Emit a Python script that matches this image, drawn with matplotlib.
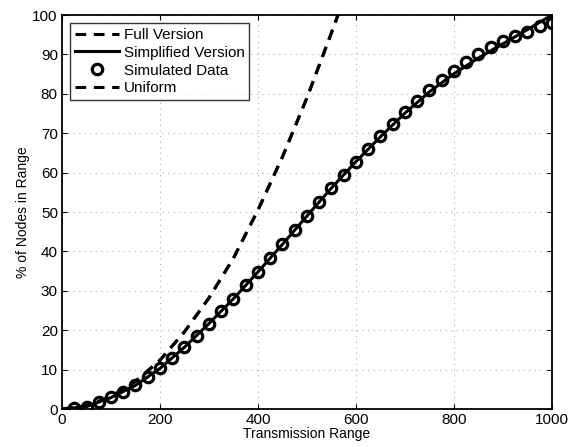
import numpy as np
from matplotlib import pyplot as plt

plt.rcParams['font.family'] = ['Liberation Sans', 'DejaVu Sans']

# simulated data (circles)
sim_x = np.arange(25, 1001, 25)
sim_y = [0.2, 0.6, 1.8, 3.0, 4.3, 6.0, 8.0, 10.3, 12.9, 15.7,
         18.6, 21.7, 24.8, 28.0, 31.4, 34.8, 38.3, 41.8, 45.4, 49.0,
         52.6, 56.1, 59.5, 62.8, 66.1, 69.2, 72.3, 75.4, 78.3, 81.0,
         83.5, 85.8, 88.0, 90.0, 91.8, 93.3, 94.6, 95.8, 97.2, 98.0]

# simplified version (solid)
simp_x = [0, 50, 100, 150, 200, 250, 300, 350, 400, 450, 500,
          550, 600, 650, 700, 750, 800, 850, 900, 950, 1000]
simp_y = [0, 0.6, 2.9, 6.0, 10.3, 15.7, 21.7, 28.0, 34.8, 41.8, 49.0,
          56.1, 62.8, 69.1, 75.1, 80.5, 85.1, 89.1, 92.7, 96.3, 100.0]

# full version / uniform (dashed)
dash_x = [0, 50, 100, 150, 200, 250, 300, 350, 400, 450, 500, 550, 575]
dash_y = [0, 0.8, 3.1, 7.0, 12.4, 19.6, 28.2, 38.3, 50.5, 64.0, 79.0, 95.5, 104.0]

fig = plt.figure(figsize=(5.71, 4.47), dpi=100)
ax = fig.add_axes([0.1086, 0.085, 0.858, 0.8814])

ax.plot(dash_x, dash_y, 'k--', lw=2.2, dashes=(3.5, 2.5), label='Full Version')
ax.plot(simp_x, simp_y, 'k-', lw=2.2, label='Simplified Version')
ax.plot(sim_x, sim_y, 'o', ms=7.5, mfc='none', mec='k', mew=2.3,
        label='Simulated Data')
ax.plot(dash_x, dash_y, 'k--', lw=2.2, dashes=(3.5, 2.5), label='Uniform')

ax.set_xlim(0, 1000)
ax.set_ylim(0, 100)
ax.set_xticks(range(0, 1001, 200))
ax.set_yticks(range(0, 101, 10))
ax.grid(True, linestyle=(0, (1, 4)), color='#aaaaaa', lw=0.8)
ax.tick_params(direction='in', top=True, right=True, labelsize=11, pad=3)
for s in ax.spines.values():
    s.set_linewidth(1.3)

ax.set_xlabel('Transmission Range', fontsize=10, labelpad=0)
ax.set_ylabel('% of Nodes in Range', fontsize=10, labelpad=2)

leg = ax.legend(loc='upper left', fontsize=11, frameon=True, fancybox=False,
                edgecolor='k', handlelength=2.9, handletextpad=0.3,
                borderpad=0.3, labelspacing=0.25, borderaxespad=0.55)
leg.get_frame().set_linewidth(1.0)

plt.savefig('out.png')
